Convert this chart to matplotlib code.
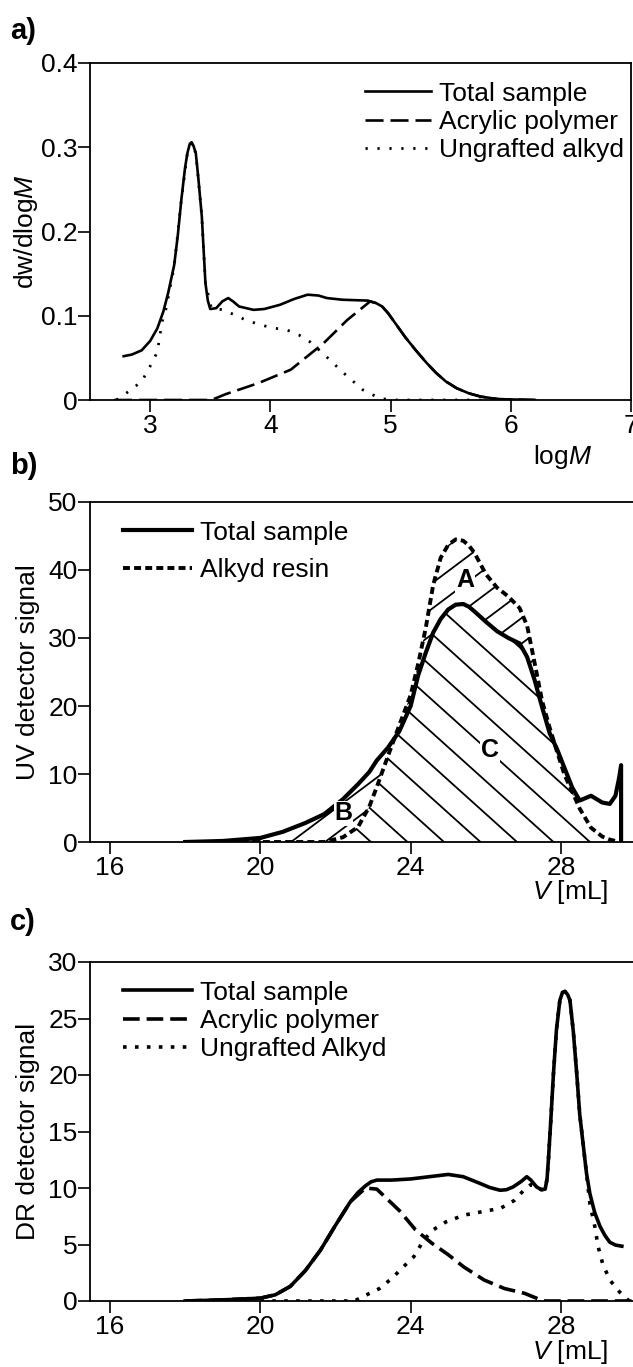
import numpy as np
import matplotlib
matplotlib.use('Agg')
import matplotlib.pyplot as plt
from matplotlib.collections import LineCollection

plt.rcParams['font.family'] = ['Liberation Sans', 'DejaVu Sans']
plt.rcParams['mathtext.fontset'] = 'custom'
plt.rcParams['mathtext.rm'] = 'Liberation Sans'
plt.rcParams['mathtext.it'] = 'Liberation Sans:italic'
plt.rcParams['lines.scale_dashes'] = False

# ---------------- panel a: molar mass distribution ----------------
logm_total = [2.78, 2.85, 2.93, 3.0, 3.06, 3.11, 3.15, 3.2, 3.23, 3.26, 3.29, 3.31, 3.33,
              3.345, 3.36, 3.38, 3.40, 3.43, 3.46, 3.48, 3.50, 3.55, 3.60, 3.65, 3.69,
              3.74, 3.86, 3.95, 4.08, 4.2, 4.31, 4.4, 4.47, 4.6, 4.81, 4.88, 4.93, 4.98,
              5.04, 5.12, 5.21, 5.3, 5.38, 5.46, 5.55, 5.65, 5.75, 5.9, 6.2]
w_total = [0.052, 0.054, 0.059, 0.070, 0.085, 0.105, 0.127, 0.160, 0.195, 0.238, 0.275,
           0.293, 0.304, 0.306, 0.302, 0.293, 0.265, 0.218, 0.139, 0.118, 0.108, 0.109,
           0.117, 0.121, 0.117, 0.111, 0.107, 0.108, 0.113, 0.120, 0.125, 0.124, 0.121,
           0.119, 0.118, 0.115, 0.111, 0.103, 0.091, 0.075, 0.059, 0.044, 0.032, 0.022,
           0.014, 0.008, 0.004, 0.001, 0.0]

logm_acryl = [2.7, 3.51, 3.63, 3.90, 4.17, 4.30, 4.44, 4.64, 4.83, 4.88, 4.93, 4.98,
              5.04, 5.12, 5.21, 5.3, 5.38, 5.46, 5.55, 5.65, 5.75, 5.9, 6.2]
w_acryl = [0.0, 0.0, 0.007, 0.020, 0.036, 0.051, 0.067, 0.095, 0.117, 0.115, 0.111,
           0.103, 0.091, 0.075, 0.059, 0.044, 0.032, 0.022, 0.014, 0.008, 0.004, 0.001,
           0.0]

logm_alkyd = [2.72, 2.82, 2.93, 3.0, 3.06, 3.10, 3.13, 3.2, 3.26, 3.31, 3.345, 3.38,
              3.43, 3.46, 3.51, 3.61, 3.81, 4.0, 4.14, 4.24, 4.33, 4.44, 4.61, 4.77,
              4.91, 5.01, 5.9]
w_alkyd = [0.0, 0.010, 0.022, 0.040, 0.057, 0.093, 0.107, 0.158, 0.238, 0.293, 0.306,
           0.293, 0.218, 0.139, 0.109, 0.107, 0.094, 0.086, 0.083, 0.077, 0.069, 0.055,
           0.032, 0.012, 0.002, 0.0, 0.0]

# ---------------- panel b: UV detector ----------------
v_uv = [18.0, 19.0, 20.0, 20.6, 21.2, 21.7, 22.2, 22.6, 22.9, 23.1, 23.4, 23.7, 24.0,
        24.2, 24.4, 24.6, 24.8, 25.0, 25.2, 25.4, 25.55, 25.7, 26.0, 26.3, 26.6, 26.9,
        27.1, 27.3, 27.5, 27.7, 27.9, 28.1, 28.3, 28.5, 28.8, 29.1, 29.3, 29.45, 29.55,
        29.6, 29.6]
uv_total = [0.0, 0.15, 0.6, 1.5, 2.8, 4.1, 6.3, 8.5, 10.3, 12.0, 13.9, 16.3, 20.0,
            24.5, 27.8, 30.8, 32.8, 34.2, 34.9, 35.0, 34.6, 33.9, 32.4, 31.0, 30.0, 29.2,
            27.2, 23.8, 19.8, 16.0, 13.6, 10.8, 8.0, 6.1, 6.8, 5.8, 5.6, 6.8, 9.5, 11.3,
            0.0]
uv_alkyd = [0.0, 0.0, 0.0, 0.0, 0.0, 0.0, 0.7, 2.2, 5.2, 8.1, 12.7, 17.2, 21.6, 26.2,
            31.4, 37.8, 41.8, 43.7, 44.5, 44.3, 43.6, 42.5, 39.4, 37.4, 36.1, 34.4, 31.8,
            26.3, 20.7, 16.8, 13.2, 9.8, 7.4, 4.9, 2.1, 0.8, 0.35, 0.15, 0.1, 0.1, 0.1]

# ---------------- panel c: DR detector ----------------
v_dr_total = [18.0, 19.0, 20.0, 20.4, 20.8, 21.2, 21.6, 22.0, 22.4, 22.6, 22.8, 22.95,
              23.1, 23.5, 24.0, 24.5, 25.0, 25.4, 25.85, 26.1, 26.38, 26.55, 26.73,
              26.95, 27.09, 27.2, 27.35, 27.48, 27.58, 27.63, 27.67, 27.73, 27.8, 27.88,
              27.97, 28.04, 28.11, 28.18, 28.24, 28.33, 28.42, 28.5, 28.6, 28.68, 28.77,
              28.9, 29.04, 29.17, 29.3, 29.45, 29.62]
dr_total = [0.0, 0.1, 0.25, 0.55, 1.3, 2.7, 4.5, 6.7, 8.8, 9.6, 10.2, 10.55, 10.7, 10.7,
            10.8, 11.0, 11.2, 11.0, 10.4, 10.05, 9.8, 9.85, 10.1, 10.6, 11.0, 10.7, 10.1,
            9.85, 9.9, 10.8, 12.7, 16.0, 20.1, 24.0, 26.6, 27.3, 27.4, 27.1, 26.6, 23.8,
            20.1, 16.5, 13.6, 11.3, 9.5, 7.8, 6.6, 5.8, 5.2, 4.95, 4.85]

v_dr_acryl = [18.0, 19.0, 20.0, 20.4, 20.8, 21.2, 21.6, 22.0, 22.4, 22.8, 23.1, 23.7,
              24.13, 24.57, 25.0, 25.42, 25.96, 26.5, 27.03, 27.46, 27.6, 29.9]
dr_acryl = [0.0, 0.1, 0.25, 0.55, 1.3, 2.7, 4.5, 6.7, 8.8, 10.0, 9.9, 8.0, 6.3, 5.1,
            4.1, 3.0, 1.85, 1.1, 0.68, 0.1, 0.0, 0.0]

v_dr_alkyd = [20.0, 22.5, 22.8, 23.17, 23.5, 23.8, 24.08, 24.35, 24.6, 24.94, 25.42,
              26.06, 26.39, 26.76, 27.04, 27.2, 27.35, 27.48, 27.58, 27.63, 27.67, 27.73,
              27.8, 27.88, 27.97, 28.04, 28.11, 28.18, 28.24, 28.33, 28.42, 28.5, 28.6,
              28.77, 28.9, 28.99, 29.11, 29.3, 29.56, 29.8]
dr_alkyd = [0.0, 0.0, 0.5, 1.1, 2.0, 3.0, 3.9, 5.4, 6.3, 7.0, 7.6, 8.0, 8.2, 8.9, 9.9,
            10.3, 10.1, 9.85, 9.9, 10.8, 12.7, 16.0, 20.1, 24.0, 26.6, 27.3, 27.4, 27.1,
            26.6, 23.8, 20.1, 16.5, 13.6, 8.6, 6.6, 4.8, 3.3, 1.85, 0.8, 0.05]

FS = 19
W, H = 633, 1367
fig = plt.figure(figsize=(W / 100, H / 100), dpi=100)


def add_axes(left, top, right, bottom):
    return fig.add_axes([left / W, 1 - bottom / H, (right - left) / W, (bottom - top) / H])


def style(ax, right_spine=False):
    for s in ['left', 'bottom', 'top', 'right']:
        ax.spines[s].set_linewidth(1.3)
    ax.spines['right'].set_visible(right_spine)
    ax.tick_params(axis='both', direction='out', length=8.5, width=1.2,
                   labelsize=FS, top=False, right=False)
    ax.tick_params(axis='y', pad=0.5)
    ax.tick_params(axis='x', pad=1.5)


def hatch(ax, x, y_low, y_high, slope, step, anchor, lw=1.3):
    """diagonal lines (pixel slope, horizontal step at baseline) clipped to a band"""
    band = ax.fill_between(x, y_low, y_high, facecolor='none', edgecolor='none')
    bb = ax.get_position()
    wpx, hpx = bb.width * W, bb.height * H
    segs = []
    for x0 in np.arange(anchor - 40 * step, anchor + 40 * step, step):
        xa, xb = -wpx, 2 * wpx
        segs.append([(xa / wpx, slope * (xa - x0) / hpx), (xb / wpx, slope * (xb - x0) / hpx)])
    lc = LineCollection(segs, colors='black', linewidths=lw, transform=ax.transAxes)
    ax.add_collection(lc)
    lc.set_clip_path(band.get_paths()[0], ax.transData)


# ---------------- a) ----------------
ax = add_axes(90, 63, 631, 400)
style(ax, right_spine=True)
ax.plot(logm_total, w_total, color='black', lw=1.9, label='Total sample')
ax.plot(logm_acryl, w_acryl, color='black', lw=1.9, ls=(0, (13, 5)), label='Acrylic polymer')
ax.plot(logm_alkyd, w_alkyd, color='black', lw=2.0, ls=(0, (1.6, 7)), label='Ungrafted alkyd')
ax.set_xlim(2.5, 7.0)
ax.set_ylim(0, 0.4)
ax.set_xticks([3, 4, 5, 6, 7])
ax.set_yticks([0, 0.1, 0.2, 0.3, 0.4])
ax.set_yticklabels(['0', '0.1', '0.2', '0.3', '0.4'])
ax.set_ylabel('dw/dlog$\\it{M}$', fontsize=FS)
ax.yaxis.set_label_coords(-0.092, 0.5)
ax.text(0.874, -0.168, 'log$\\it{M}$', transform=ax.transAxes, fontsize=FS,
        ha='center', va='center')
ax.legend(loc='upper left', bbox_to_anchor=(0.508, 0.945), frameon=False, fontsize=FS,
          handlelength=2.5, handletextpad=0.3, labelspacing=0.16, borderpad=0,
          borderaxespad=0)
fig.text(10 / W, 1 - 31 / H, 'a)', fontsize=FS + 2, fontweight='bold', va='center')

# ---------------- b) ----------------
ax = add_axes(90, 502, 633, 842)
style(ax)
lo = np.minimum(uv_total, uv_alkyd)
hi = np.maximum(uv_total, uv_alkyd)
hatch(ax, v_uv, 0, lo, slope=-0.9, step=36.5, anchor=354)
n_ab = sum(1 for v in v_uv if v <= 28.2)
hatch(ax, v_uv[:n_ab], lo[:n_ab], hi[:n_ab], slope=0.75, step=34, anchor=201)
ax.plot(v_uv, uv_total, color='black', lw=3.0, label='Total sample', zorder=3)
ax.plot(v_uv, uv_alkyd, color='black', lw=2.8, ls=(0, (5, 3)), label='Alkyd resin',
        zorder=3)
for lab, vx, vy in [('A', 25.45, 38.5), ('B', 22.21, 4.2), ('C', 26.11, 13.5)]:
    ax.text(vx, vy, lab, fontsize=FS - 1, fontweight='bold', ha='center', va='center',
            zorder=4, bbox=dict(facecolor='white', edgecolor='none', pad=0.6))
ax.set_xlim(15.468, 29.917)
ax.set_ylim(0, 50)
ax.set_xticks([16, 20, 24, 28])
ax.set_yticks([0, 10, 20, 30, 40, 50])
ax.set_ylabel('UV detector signal', fontsize=FS)
ax.yaxis.set_label_coords(-0.092, 0.5)
ax.text(0.884, -0.148, '$\\it{V}$ [mL]', transform=ax.transAxes, fontsize=FS,
        ha='center', va='center')
ax.legend(loc='upper left', bbox_to_anchor=(0.061, 0.945), frameon=False, fontsize=FS,
          handlelength=2.6, handletextpad=0.3, labelspacing=0.5, borderpad=0,
          borderaxespad=0)
fig.text(10 / W, 1 - 466 / H, 'b)', fontsize=FS + 2, fontweight='bold', va='center')

# ---------------- c) ----------------
ax = add_axes(90, 962, 633, 1301)
style(ax)
ax.plot(v_dr_total, dr_total, color='black', lw=2.6, label='Total sample', zorder=3)
ax.plot(v_dr_acryl, dr_acryl, color='black', lw=2.6, ls=(0, (12, 5)),
        label='Acrylic polymer')
ax.plot(v_dr_alkyd, dr_alkyd, color='black', lw=2.6, ls=(0, (2.6, 6)),
        label='Ungrafted Alkyd')
ax.set_xlim(15.468, 29.917)
ax.set_ylim(0, 30)
ax.set_xticks([16, 20, 24, 28])
ax.set_yticks([0, 5, 10, 15, 20, 25, 30])
ax.set_ylabel('DR detector signal', fontsize=FS)
ax.yaxis.set_label_coords(-0.092, 0.5)
ax.text(0.884, -0.15, '$\\it{V}$ [mL]', transform=ax.transAxes, fontsize=FS,
        ha='center', va='center')
ax.legend(loc='upper left', bbox_to_anchor=(0.061, 0.945), frameon=False, fontsize=FS,
          handlelength=2.6, handletextpad=0.3, labelspacing=0.16, borderpad=0,
          borderaxespad=0)
fig.text(10 / W, 1 - 922 / H, 'c)', fontsize=FS + 2, fontweight='bold', va='center')

fig.savefig('out.png', dpi=100)
